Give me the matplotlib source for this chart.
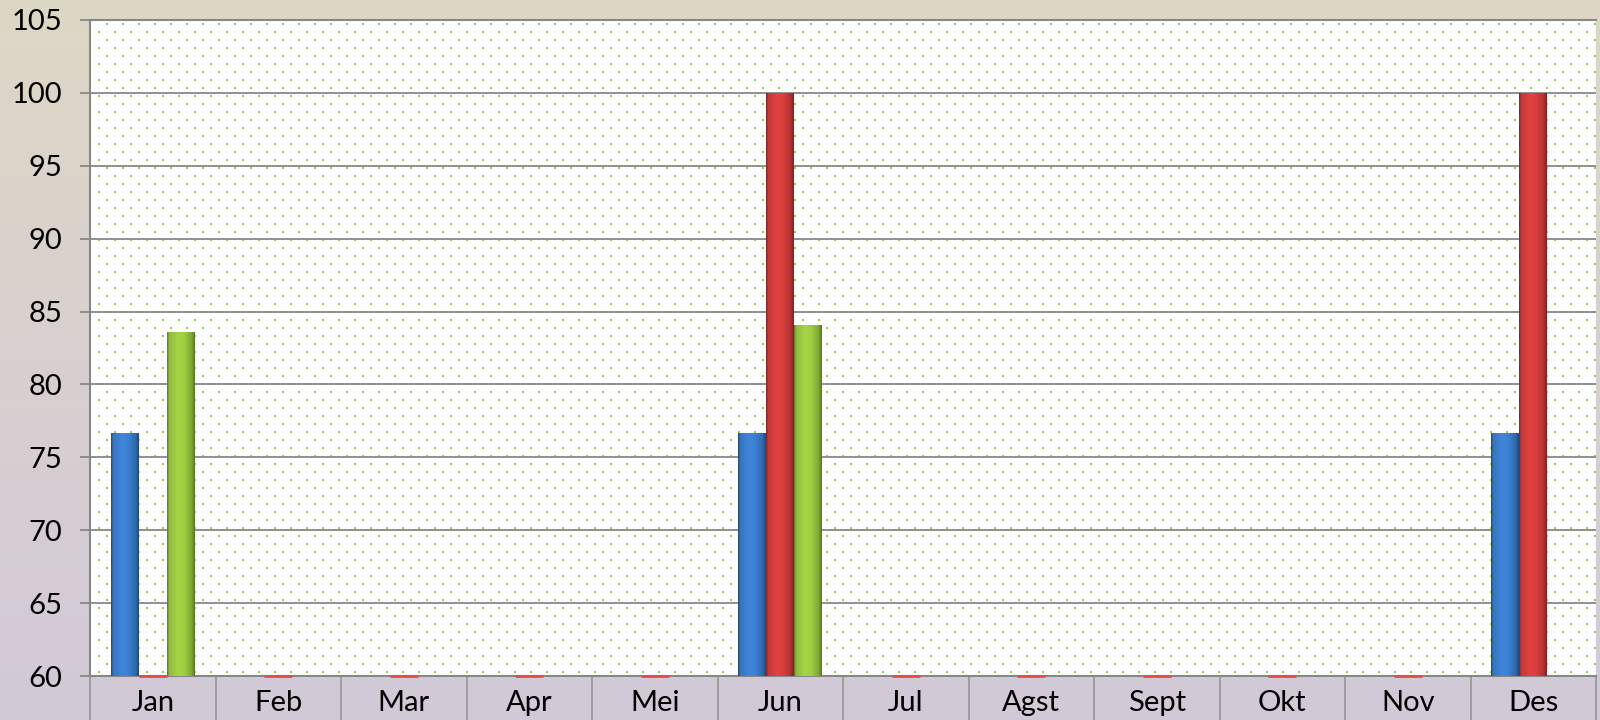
import numpy as np
import matplotlib
matplotlib.use('Agg')
import matplotlib.pyplot as plt
from matplotlib.colors import LinearSegmentedColormap, to_rgb

# data (values below the axis floor show as a thin line)
months = ['Jan', 'Feb', 'Mar', 'Apr', 'Mei', 'Jun', 'Jul', 'Agst', 'Sept', 'Okt', 'Nov', 'Des']
blue_vals = [76.7, np.nan, np.nan, np.nan, np.nan, 76.7, np.nan, np.nan, np.nan, np.nan, np.nan, 76.7]
red_vals = [0, 0, 0, 0, 0, 100, 0, 0, 0, 0, 0, 100]
green_vals = [83.6, np.nan, np.nan, np.nan, np.nan, 84.1, np.nan, np.nan, np.nan, np.nan, np.nan, np.nan]

ymin, ymax = 60, 105
plt.rcParams['font.family'] = ['Lato', 'DejaVu Sans']

W, H, DPI = 1600, 720, 100
fig = plt.figure(figsize=(W / DPI, H / DPI), dpi=DPI)

# background gradient beige -> lavender
bg = fig.add_axes([0, 0, 1, 1], zorder=-10)
cmap = LinearSegmentedColormap.from_list('bg', ['#ddd8c5', '#d8d0cf', '#d2c9d8'])
bg.imshow(np.linspace(0, 1, 256).reshape(-1, 1), aspect='auto', cmap=cmap,
          extent=[0, 1, 0, 1], origin='upper')
bg.axis('off')

# plot area in pixels
left, right, top, bottom = 90, 1596, 20, 676
ax = fig.add_axes([left / W, 1 - bottom / H, (right - left) / W, (bottom - top) / H])
ax.set_facecolor('white')

# green dot pattern
pw, ph = right - left, bottom - top
pat = np.zeros((ph, pw, 4))
for r, yy in enumerate(range(3, ph, 8)):
    off = 16 if r % 2 == 0 else 8
    for xx in range(off, pw, 16):
        pat[yy:yy + 2, xx:xx + 2] = [0.55, 0.81, 0.29, 1.0]
ax.imshow(pat, extent=[-0.5, 11.5, ymin, ymax], aspect='auto',
          interpolation='none', zorder=0)

# horizontal shading profile across a bar (dark edges, lighter centre)
prof = np.interp(np.linspace(0, 1, 64), [0, 0.08, 0.4, 0.6, 0.88, 1],
                 [0.62, 0.95, 1.08, 1.05, 0.85, 0.6])

x = np.arange(len(months))
bw = 0.223
series = [(blue_vals, -bw, '#3a7cca'),
          (red_vals, 0, '#d03c3c'),
          (green_vals, bw, '#98c640')]
for vals, off, col in series:
    v = np.array(vals, dtype=float)
    base = np.array(to_rgb(col))
    img = np.clip(prof[None, :, None] * base[None, None, :], 0, 1)
    for xi, val in zip(x, v):
        if np.isnan(val):
            continue
        x0, x1 = xi + off - bw / 2, xi + off + bw / 2
        if val <= ymin:
            ax.plot([x0, x1], [ymin, ymin], color='#e84a4a', lw=2, zorder=4,
                    clip_on=False, solid_capstyle='butt')
            continue
        b = ax.bar(xi + off, val - ymin, bottom=ymin, width=bw, color=col,
                   linewidth=0, zorder=3)[0]
        im = ax.imshow(img, extent=[x0, x1, ymin, val], aspect='auto',
                       interpolation='bilinear', zorder=3.2)
        im.set_clip_path(b)

ax.set_xlim(-0.5, 11.5)
ax.set_ylim(ymin, ymax)

ax.set_yticks(np.arange(60, 106, 5))
ax.yaxis.grid(True, color='#878787', linewidth=1.3)
for gl in ax.get_ygridlines():
    gl.set_zorder(1)
ax.tick_params(axis='y', length=7, width=1.3, color='#878787',
               labelsize=21, pad=13)

ax.set_xticks(np.arange(-0.5, 12, 1))
ax.set_xticklabels([])
ax.tick_params(axis='x', which='major', length=32, width=1.3, color='#999999')
ax.set_xticks(x, minor=True)
ax.set_xticklabels(months, minor=True)
ax.tick_params(axis='x', which='minor', length=0, labelsize=21, pad=10)

for s in ['left', 'top', 'bottom']:
    ax.spines[s].set_color('#878787')
    ax.spines[s].set_linewidth(1.5)
ax.spines['right'].set_visible(False)

fig.savefig('out.png', dpi=DPI)
